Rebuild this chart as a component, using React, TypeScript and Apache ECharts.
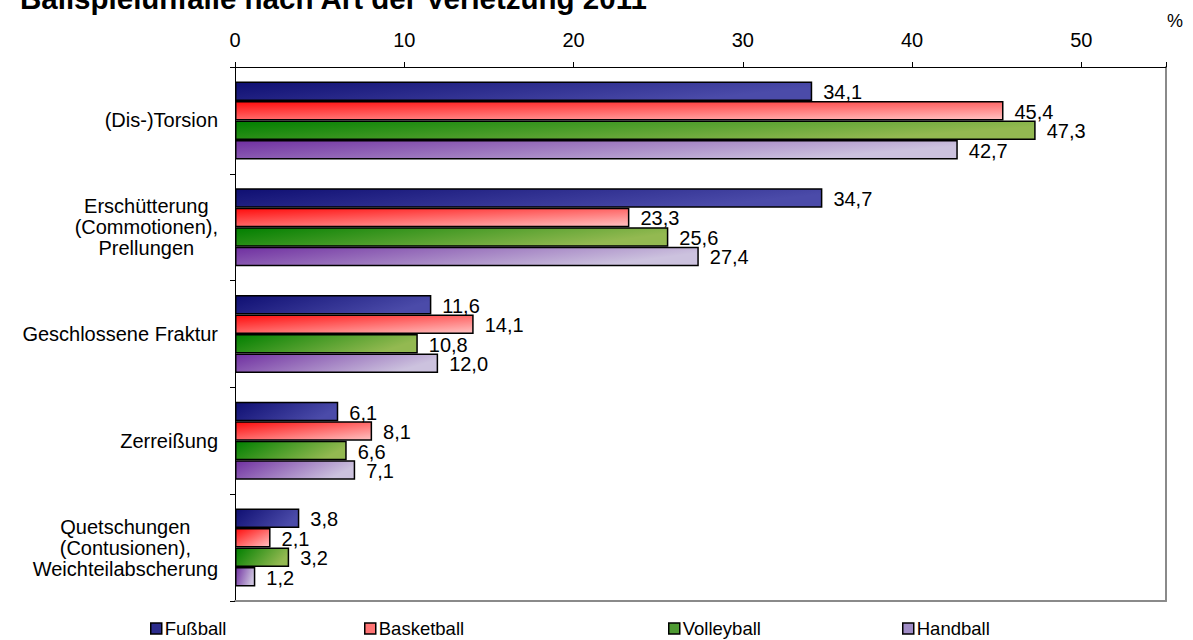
import React, { useEffect, useRef } from "react";
import * as echarts from "echarts";

const title = "Ballspielunfälle nach Art der Verletzung 2011";
const unit = "%";
const categories = [
  "(Dis-)Torsion",
  "Erschütterung\n(Commotionen),\nPrellungen",
  "Geschlossene Fraktur",
  "Zerreißung",
  "Quetschungen\n(Contusionen),\nWeichteilabscherung",
];
const seriesNames = ["Fußball", "Basketball", "Volleyball", "Handball"];
const fussball = [34.1, 34.7, 11.6, 6.1, 3.8];
const basketball = [45.4, 23.3, 14.1, 8.1, 2.1];
const volleyball = [47.3, 25.6, 10.8, 6.6, 3.2];
const handball = [42.7, 27.4, 12.0, 7.1, 1.2];
const seriesValues = [fussball, basketball, volleyball, handball];
const xTicks = [0, 10, 20, 30, 40, 50];

const FONT = "'Liberation Sans', Arial, sans-serif";

const gradients = [
  { x2: 1, y2: 0.3, from: "#0f0f72", to: "#4b4ba9" },
  { x2: 1, y2: 1, from: "#ff0c0c", to: "#ffc2c2" },
  { x2: 1, y2: 0.3, from: "#007f00", to: "#93b951" },
  { x2: 1, y2: 0.3, from: "#6f2fa0", to: "#ccc2de" },
];
const legendColors = ["#2c2c8c", "#ff7474", "#4e9a32", "#a08cc6"];
const legendLefts = [150, 364, 668, 902];

export default function App() {
  const ref = useRef<HTMLDivElement>(null);
  useEffect(() => {
    document.body.style.margin = "0";
    const chart = echarts.init(ref.current!, null, { renderer: "svg" });
    const fmt = (v: number) => v.toFixed(1).replace(".", ",");
    chart.setOption({
      animation: false,
      backgroundColor: "#ffffff",
      textStyle: { fontFamily: FONT },
      grid: { left: 235, right: 27, top: 67, bottom: 39, containLabel: false },
      xAxis: [
        {
          type: "value",
          position: "top",
          min: 0,
          max: 55,
          interval: 10,
          axisLine: { show: true, onZero: false, lineStyle: { color: "#000", width: 1 } },
          axisTick: { show: true, length: 5, lineStyle: { color: "#000" } },
          axisLabel: {
            fontSize: 20,
            color: "#000",
            margin: 17,
            fontFamily: FONT,
            formatter: (v: number) => (xTicks.includes(v) ? String(v) : ""),
          },
          splitLine: { show: false },
        },
        {
          type: "value",
          position: "bottom",
          min: 0,
          max: 55,
          axisLine: { show: true, onZero: false, lineStyle: { color: "#8a8a8a", width: 2 } },
          axisTick: { show: false },
          axisLabel: { show: false },
          splitLine: { show: false },
        },
      ],
      yAxis: [
        {
          type: "category",
          data: categories,
          inverse: true,
          position: "left",
          axisLine: { show: true, onZero: false, lineStyle: { color: "#000", width: 1 } },
          axisTick: { show: true, length: 5, lineStyle: { color: "#000" } },
          axisLabel: {
            margin: 17,
            color: "#000",
            formatter: (v: string) =>
              v
                .split("\n")
                .map((l) => `{c|${l}}`)
                .join("\n"),
            rich: {
              c: { align: "center", fontSize: 20, lineHeight: 21, color: "#000", fontFamily: FONT },
            },
          },
        },
        {
          type: "category",
          data: categories,
          inverse: true,
          position: "right",
          axisLine: { show: true, onZero: false, lineStyle: { color: "#8a8a8a", width: 2 } },
          axisTick: { show: false },
          axisLabel: { show: false },
        },
      ],
      legend: seriesNames.map((name, i) => ({
        data: [{ name, itemStyle: { color: legendColors[i], borderColor: "#000", borderWidth: 1.5 } }],
        left: legendLefts[i],
        top: 619,
        icon: "rect",
        itemWidth: 11,
        itemHeight: 11,
        padding: 0,
        selectedMode: false,
        textStyle: { fontSize: 18.5, color: "#000", fontFamily: FONT, padding: [0, 0, 0, -2] },
      })),
      graphic: [
        {
          type: "text",
          left: 20,
          top: -17,
          style: { text: title, font: `bold 29.5px ${FONT}`, fill: "#000" },
        },
        {
          type: "text",
          left: 1167,
          top: 12,
          style: { text: unit, font: `18px ${FONT}`, fill: "#000" },
        },
      ],
      series: seriesNames.map((name, i) => ({
        name,
        type: "bar",
        xAxisIndex: 0,
        yAxisIndex: 0,
        data: seriesValues[i],
        barGap: "0%",
        barCategoryGap: "27%",
        itemStyle: {
          color: new echarts.graphic.LinearGradient(0, 0, gradients[i].x2, gradients[i].y2, [
            { offset: 0, color: gradients[i].from },
            { offset: 1, color: gradients[i].to },
          ]),
          borderColor: "#000",
          borderWidth: 1.5,
        },
        label: {
          show: true,
          position: "right",
          distance: 11,
          fontSize: 20,
          color: "#000",
          fontFamily: FONT,
          offset: [0, 1],
          formatter: (p: any) => fmt(p.value),
        },
      })),
    });
    return () => chart.dispose();
  }, []);
  return <div ref={ref} style={{ width: 1193, height: 640 }} />;
}
